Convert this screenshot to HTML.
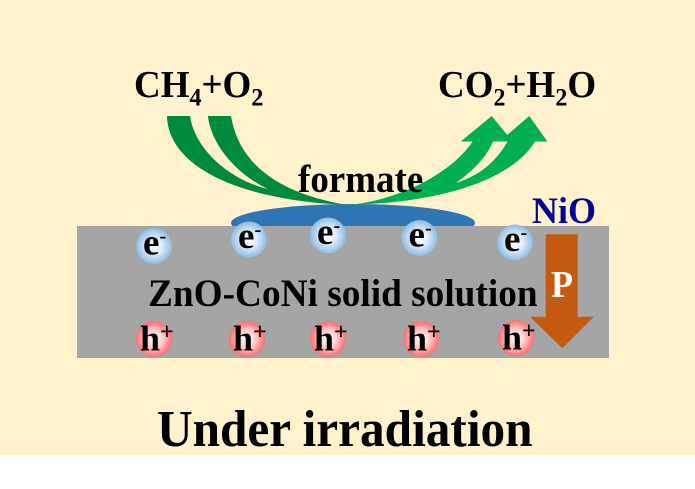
<!DOCTYPE html>
<html>
<head>
<meta charset="utf-8">
<style>
  html, body { margin: 0; padding: 0; background: #ffffff; }
  svg { display: block; }
  text { font-family: "Liberation Serif", "Times New Roman", serif; font-weight: bold; }
</style>
</head>
<body>
<svg width="695" height="489" viewBox="0 0 695 489" xmlns="http://www.w3.org/2000/svg">
  <defs>
    <radialGradient id="gb" cx="50%" cy="50%" r="50%">
      <stop offset="0" stop-color="#ffffff"/>
      <stop offset="0.45" stop-color="#e0ecf8"/>
      <stop offset="1" stop-color="#8fbbe3"/>
    </radialGradient>
    <radialGradient id="gr" cx="50%" cy="50%" r="50%">
      <stop offset="0" stop-color="#ffffff"/>
      <stop offset="0.45" stop-color="#ffd2d3"/>
      <stop offset="1" stop-color="#ff6b70"/>
    </radialGradient>
  </defs>

  <!-- background -->
  <rect x="0" y="0" width="695" height="489" fill="#ffffff"/>
  <rect x="0" y="0" width="695" height="455" fill="#fff2cc"/>

  <!-- blue formate ellipse -->
  <ellipse cx="353" cy="223" rx="122" ry="19" fill="#2e75b6"/>

  <!-- dark green incoming bands (combined, with cream gap) -->
  <path d="M167,116 C168,165 235,200 347,205 C270,192 238,158 231,116 Z" fill="#008a3e"/>
  <path d="M190,116 C195,150 230,180 268,189 C232,172 210,140 208,116 Z" fill="#fff2cc"/>

  <!-- light green outgoing bands (combined, with cream gap) -->
  <path d="M347,205 C390,202 448,178 473,141 L537,138 C515,180 440,203 347,205 Z" fill="#00b050"/>
  <path d="M494,139 L509,139 C496,163 478,176 456,183 C474,170 487,157 494,139 Z" fill="#fff2cc"/>
  <polygon points="460.7,141.5 491.7,116 512.5,141.5" fill="#00b050"/>
  <polygon points="499.5,141.5 529.3,116 547.3,141.5" fill="#00b050"/>

  <!-- gray solid solution -->
  <rect x="77" y="226" width="532" height="132" fill="#a5a5a5"/>

  <!-- orange polarization arrow -->
  <polygon points="545.7,234.3 577.7,234.3 577.7,316.7 594,316.7 562.3,348.3 530,316.7 545.7,316.7" fill="#c55a11"/>
  <text transform="translate(551,297) scale(1,1.05)" font-size="36" fill="#ffffff">P</text>

  <!-- electrons -->
  <circle cx="154" cy="246" r="18" fill="url(#gb)"/>
  <circle cx="249" cy="239.5" r="18" fill="url(#gb)"/>
  <circle cx="328" cy="235.5" r="18" fill="url(#gb)"/>
  <circle cx="419.5" cy="238" r="18" fill="url(#gb)"/>
  <circle cx="515" cy="242.5" r="18" fill="url(#gb)"/>

  <text x="143" y="254.5" font-size="37" fill="#000">e<tspan font-size="20" dy="-12">-</tspan></text>
  <text x="238" y="248" font-size="37" fill="#000">e<tspan font-size="20" dy="-12">-</tspan></text>
  <text x="317" y="244" font-size="37" fill="#000">e<tspan font-size="20" dy="-12">-</tspan></text>
  <text x="408.5" y="246.5" font-size="37" fill="#000">e<tspan font-size="20" dy="-12">-</tspan></text>
  <text x="504" y="251" font-size="37" fill="#000">e<tspan font-size="20" dy="-12">-</tspan></text>

  <!-- holes -->
  <circle cx="154" cy="339" r="18" fill="url(#gr)"/>
  <circle cx="247" cy="339" r="18" fill="url(#gr)"/>
  <circle cx="328" cy="339" r="18" fill="url(#gr)"/>
  <circle cx="421" cy="339" r="18" fill="url(#gr)"/>
  <circle cx="516" cy="338" r="18" fill="url(#gr)"/>

  <text x="140" y="350.5" font-size="36" fill="#000">h<tspan font-size="24" dy="-11">+</tspan></text>
  <text x="233" y="350.5" font-size="36" fill="#000">h<tspan font-size="24" dy="-11">+</tspan></text>
  <text x="314" y="350.5" font-size="36" fill="#000">h<tspan font-size="24" dy="-11">+</tspan></text>
  <text x="407" y="350.5" font-size="36" fill="#000">h<tspan font-size="24" dy="-11">+</tspan></text>
  <text x="502" y="349.5" font-size="36" fill="#000">h<tspan font-size="24" dy="-11">+</tspan></text>

  <!-- labels -->
  <text transform="translate(148,306) scale(1,1.05)" font-size="37.3" fill="#000">ZnO-CoNi solid solution</text>
  <text transform="translate(298,192) scale(1,1.05)" font-size="37" fill="#000">formate</text>
  <text transform="translate(532,223) scale(1,1.04)" font-size="36" fill="#000099">NiO</text>

  <text transform="translate(134,97) scale(1,1.04)" font-size="37" fill="#000">CH<tspan font-size="24" dy="8">4</tspan><tspan dy="-8">+O</tspan><tspan font-size="24" dy="8">2</tspan></text>
  <text transform="translate(438,97) scale(1,1.04)" font-size="37" fill="#000">CO<tspan font-size="24" dy="8">2</tspan><tspan dy="-8">+H</tspan><tspan font-size="24" dy="8">2</tspan><tspan dy="-8">O</tspan></text>

  <text transform="translate(157,446) scale(1,1.05)" font-size="49.3" fill="#000">Under irradiation</text>
</svg>
</body>
</html>
